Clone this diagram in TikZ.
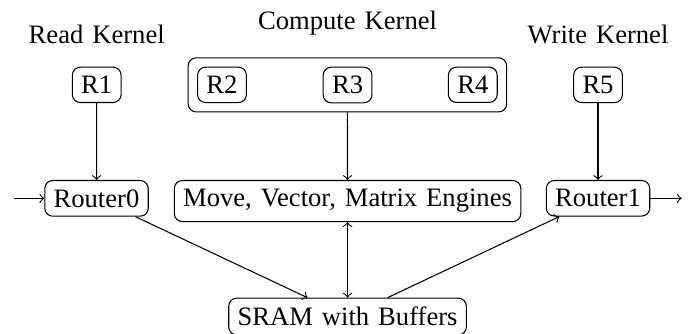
\documentclass[tikz,border=0pt]{standalone}
\usepackage{fontspec}
\setmainfont{Liberation Serif}[WordSpace=1.35]
\usetikzlibrary{fit}

\begin{document}
\begin{tikzpicture}[
  box/.style={draw, rounded corners=3pt, anchor=north},
  group/.style={draw, rounded corners=3pt, inner sep=0.3333em},
  kernel/.style={anchor=base}
]
% Keep the page the size of the reference
\useasboundingbox (0,0) rectangle (9.103,-4.400);

% Kernel titles
\node[kernel] (readk) at (1.278,-0.581) {Read Kernel};
\node[kernel] (compk) at (4.592,-0.387) {Compute Kernel};
\node[kernel] (writek) at (7.901,-0.581) {Write Kernel};

% Registers of each kernel
\node[box] (r1) at (1.278,-0.881) {R1};
\node[box] (r2) at (2.933,-0.881) {R2};
\node[box] (r3) at (4.592,-0.881) {R3};
\node[box] (r4) at (6.247,-0.881) {R4};
\node[box] (r5) at (7.901,-0.881) {R5};
\node[group, fit=(r2)(r4)] (compute) {};

% Routers, engines and memory
\node[box] (router0) at (1.275,-2.378) {Router0};
\node[box] (engines) at (4.592,-2.378) {Move, Vector, Matrix Engines};
\node[box] (router1) at (7.901,-2.378) {Router1};
\node[box] (sram) at (4.592,-3.933) {SRAM with Buffers};

% Free ends of the outer links
\coordinate (in) at (0.185,0 |- router0);
\coordinate (out) at (9.007,0 |- router1);

% Links
\draw[->] (in) -- (router0);
\draw[->] (router1) -- (out);
\draw[->] (r1) -- (router0);
\draw[->] (compute) -- (engines);
\draw[->] (r5) -- (router1);
\draw[->] (router0) -- (sram);
\draw[<->] (engines) -- (sram);
\draw[->] (sram) -- (router1);
\end{tikzpicture}
\end{document}
